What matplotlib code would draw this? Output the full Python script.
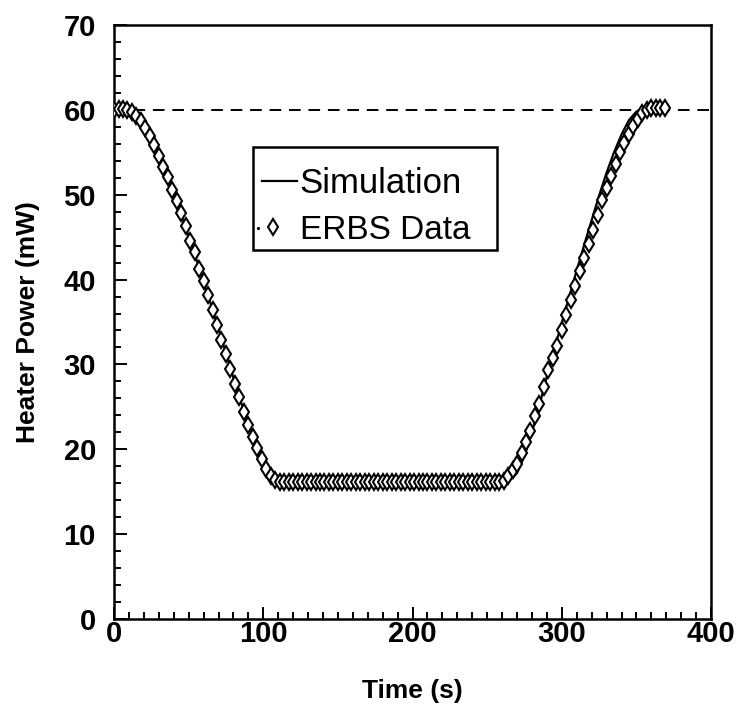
import matplotlib
matplotlib.use("Agg")
import matplotlib.pyplot as plt
from matplotlib.lines import Line2D
from matplotlib.patches import Rectangle
from matplotlib.ticker import MultipleLocator

plt.rcParams["font.family"] = ["Liberation Sans", "DejaVu Sans"]

# ERBS heater power telemetry (s, mW)
erbs_time = [0, 3, 6, 9, 12, 15, 18, 21, 24, 27, 30, 33, 36, 39, 42, 45, 48, 51,
             54, 57, 60, 63, 66, 69, 72, 75, 78, 81, 84, 87, 90, 93, 96, 99, 102,
             105, 108, 111, 114, 117, 120, 123, 126, 129, 132, 135, 138, 141, 144,
             147, 150, 153, 156, 159, 162, 165, 168, 171, 174, 177, 180, 183, 186,
             189, 192, 195, 198, 201, 204, 207, 210, 213, 216, 219, 222, 225, 228,
             231, 234, 237, 240, 243, 246, 249, 252, 255, 258, 261, 264, 267, 270,
             273, 276, 279, 282, 285, 288, 291, 294, 297, 300, 303, 306, 309, 312,
             315, 318, 321, 324, 327, 330, 333, 336, 339, 342, 345, 348, 351, 354,
             357, 360, 363, 366, 369]
erbs_power = [60.0, 60.1, 60.1, 60.0, 59.8, 59.3, 58.7, 57.9, 56.9, 55.8, 54.6,
              53.3, 52.1, 50.6, 49.2, 47.8, 46.3, 44.6, 43.2, 41.3, 39.8, 38.2,
              36.4, 34.7, 32.9, 31.2, 29.5, 27.7, 26.2, 24.4, 22.9, 21.4, 20.2,
              18.8, 17.7, 16.9, 16.4, 16.2, 16.1, 16.1, 16.1, 16.1, 16.1, 16.1,
              16.1, 16.1, 16.1, 16.1, 16.1, 16.1, 16.1, 16.1, 16.1, 16.1, 16.1,
              16.1, 16.1, 16.1, 16.1, 16.1, 16.1, 16.1, 16.1, 16.1, 16.1, 16.1,
              16.1, 16.1, 16.1, 16.1, 16.1, 16.1, 16.1, 16.1, 16.1, 16.1, 16.1,
              16.1, 16.1, 16.1, 16.1, 16.1, 16.1, 16.1, 16.1, 16.1, 16.1, 16.3,
              16.8, 17.5, 18.3, 19.6, 20.8, 22.2, 23.9, 25.3, 27.3, 29.4, 30.7,
              32.2, 34.1, 35.8, 37.6, 39.2, 41.0, 42.6, 44.2, 45.8, 47.6, 49.4,
              50.8, 52.2, 53.6, 55.0, 56.1, 57.1, 58.1, 58.9, 59.6, 60.0, 60.2,
              60.2, 60.2, 60.2]

# model prediction
sim_time = [0, 5, 10, 15, 20, 25, 30, 35, 40, 45, 50, 55, 60, 65, 70, 75, 80, 85,
            90, 95, 100, 105, 110, 115, 260, 265, 270, 275, 280, 285, 290, 295,
            300, 305, 310, 315, 320, 325, 330, 335, 340, 345, 350, 355, 360]
sim_power = [60.0, 60.0, 59.9, 59.4, 58.3, 56.7, 54.7, 52.6, 50.0, 47.6, 45.1,
             42.5, 39.7, 37.0, 34.2, 31.3, 28.4, 25.6, 22.9, 20.5, 18.4, 16.9,
             16.2, 16.1, 16.1, 16.3, 17.2, 19.2, 22.0, 25.2, 28.6, 31.8, 34.9,
             38.0, 41.1, 44.1, 47.0, 49.9, 52.6, 55.0, 57.1, 58.8, 59.8, 60.0,
             60.0]

setpoint = 60.0
W, H = 740, 727

fig = plt.figure(figsize=(W / 100, H / 100), dpi=100)
ax = fig.add_axes([0.1541, 0.1486, 0.8068, 0.817])

mk = dict(marker="d", ms=8, mfc="white", mec="black", mew=1.5)
ax.axhline(setpoint, color="black", lw=1.4, ls=(0, (6, 4)), zorder=1)
ax.plot(sim_time, sim_power, color="black", lw=1.6, zorder=2)
ax.plot(erbs_time, erbs_power, ls="none", zorder=3, **mk)

ax.set_xlim(0, 400)
ax.set_ylim(0, 70)
ax.xaxis.set_major_locator(MultipleLocator(100))
ax.xaxis.set_minor_locator(MultipleLocator(10))
ax.yaxis.set_major_locator(MultipleLocator(10))
ax.yaxis.set_minor_locator(MultipleLocator(2))
ax.tick_params(which="both", direction="in", width=1.4, top=False, right=False)
ax.tick_params(which="major", length=9, labelsize=21)
ax.tick_params(which="minor", length=5)
ax.tick_params(axis="x", pad=1)
ax.tick_params(axis="y", pad=13)
for lab in ax.get_xticklabels() + ax.get_yticklabels():
    lab.set_fontweight("bold")
for sp in ax.spines.values():
    sp.set_linewidth(1.8)

ax.set_xlabel("Time (s)", fontsize=19, fontweight="bold", labelpad=22)
ax.set_ylabel("Heater Power (mW)", fontsize=19, fontweight="bold", labelpad=17)


# legend box drawn in figure pixels
def fx(px):
    return px / W


def fy(py):
    return 1 - py / H


fig.add_artist(Rectangle((fx(253), fy(250)), fx(497) - fx(253), fy(147) - fy(250),
                         transform=fig.transFigure, fill=True, fc="white",
                         ec="black", lw=1.8, zorder=5))
fig.add_artist(Line2D([fx(262), fx(297)], [fy(181), fy(181)],
                      transform=fig.transFigure, color="black", lw=1.6, zorder=6))
fig.add_artist(Line2D([fx(273)], [fy(227)], transform=fig.transFigure,
                      ls="none", zorder=6, **mk))
fig.add_artist(Line2D([fx(258)], [fy(228)], transform=fig.transFigure,
                      ls="none", marker=".", ms=2.5, color="black", zorder=6))
fig.text(fx(299), fy(193), "Simulation", fontsize=25, va="baseline",
         ha="left", zorder=7)
fig.text(fx(300), fy(239), "ERBS Data", fontsize=24, va="baseline",
         ha="left", zorder=7)

fig.savefig("out.png", dpi=100)
